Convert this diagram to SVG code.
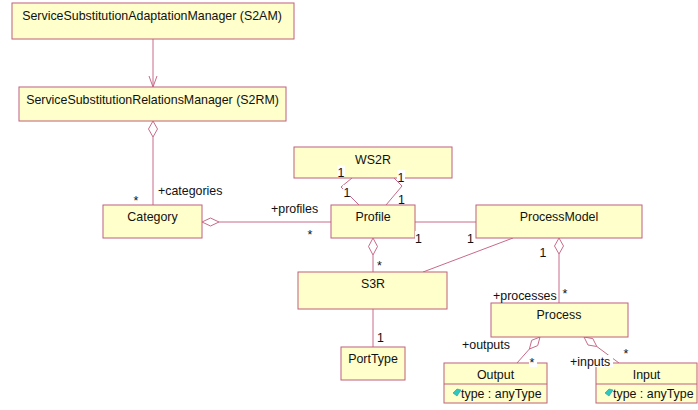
<svg xmlns="http://www.w3.org/2000/svg" width="698" height="410" viewBox="0 0 698 410">
<defs>
<style>
.box{fill:#FFFFCC;stroke:#BF5F7D;stroke-width:1}
.ln{fill:none;stroke:#C86A88;stroke-width:1}
.dia{fill:#FFFFFF;stroke:#C86A88;stroke-width:1}
.t{font-family:"Liberation Sans",Arial,sans-serif;font-size:12.4px;fill:#111}
.c{text-anchor:middle}
.bg{fill:#FFFFFF}
</style>
</defs>
<rect width="698" height="410" fill="#FFFFFF"/>
<g id="connectors">
<line class="ln" x1="153" y1="39" x2="153" y2="87"/>
<polyline class="ln" points="149,76 153,87 157,76"/>
<line class="ln" x1="153" y1="137" x2="153" y2="205"/>
<polygon class="dia" points="153,121 157.5,129 153,137 148.5,129"/>
<line class="ln" x1="219" y1="222" x2="331" y2="222"/>
<polygon class="dia" points="202,222 210.5,218 219,222 210.5,226"/>
<line class="ln" x1="415" y1="222" x2="476" y2="222"/>
<polyline class="ln" points="352,178 341,187 359,205"/>
<polyline class="ln" points="394,178 402,186 386,205"/>
<line class="ln" x1="373" y1="255" x2="373" y2="272"/>
<polygon class="dia" points="373,238 377.5,246.5 373,255 368.5,246.5"/>
<line class="ln" x1="513" y1="238" x2="423" y2="272"/>
<line class="ln" x1="373" y1="309" x2="373" y2="347"/>
<line class="ln" x1="559" y1="254" x2="559" y2="303"/>
<polygon class="dia" points="559,238 563.5,246 559,254 554.5,246"/>
<line class="ln" x1="529.4" y1="349" x2="517" y2="363"/>
<polygon class="dia" points="540,337 537.7,345.6 529.4,349 531.7,340.3"/>
<line class="ln" x1="596.8" y1="346.5" x2="619" y2="363"/>
<polygon class="dia" points="584,337 592.8,338.6 596.8,346.5 588,345"/>
</g>
<g id="S2AM">
<rect class="box" x="12" y="3" width="282" height="36"/>
<text class="t c" x="152" y="19.5">ServiceSubstitutionAdaptationManager (S2AM)</text>
</g>
<g id="S2RM">
<rect class="box" x="19" y="87" width="267" height="34"/>
<text class="t c" x="152.5" y="104">ServiceSubstitutionRelationsManager (S2RM)</text>
</g>
<g id="Category">
<rect class="box" x="103" y="205" width="99" height="33"/>
<text class="t c" x="152.5" y="221">Category</text>
</g>
<g id="WS2R">
<rect class="box" x="294" y="147" width="158" height="31"/>
<text class="t c" x="373" y="163.5">WS2R</text>
</g>
<g id="Profile">
<rect class="box" x="331" y="205" width="84" height="33"/>
<text class="t c" x="373" y="220.5">Profile</text>
</g>
<g id="ProcessModel">
<rect class="box" x="476" y="205" width="166" height="33"/>
<text class="t c" x="559" y="221">ProcessModel</text>
</g>
<g id="S3R">
<rect class="box" x="298" y="272" width="149" height="37"/>
<text class="t c" x="373" y="287.5">S3R</text>
</g>
<g id="PortType">
<rect class="box" x="341" y="347" width="64" height="33"/>
<text class="t c" x="373" y="362.5">PortType</text>
</g>
<g id="Process">
<rect class="box" x="491" y="303" width="137" height="34"/>
<text class="t c" x="559" y="318.5">Process</text>
</g>
<g id="Output">
<rect class="box" x="444" y="363" width="103" height="40"/>
<line x1="444" y1="384" x2="547" y2="384" stroke="#BF5F7D" stroke-width="1"/>
<text class="t c" x="495.5" y="379">Output</text>
<polygon points="453,393 457,389 461,390 457,396" fill="#2EC8C0" stroke="#1A9A98" stroke-width="0.6"/>
<text class="t" x="461" y="397.5">type : anyType</text>
</g>
<g id="Input">
<rect class="box" x="596" y="363" width="101" height="40"/>
<line x1="596" y1="384" x2="697" y2="384" stroke="#BF5F7D" stroke-width="1"/>
<text class="t c" x="646.5" y="379">Input</text>
<polygon points="605,393 609,389 613,390 609,396" fill="#2EC8C0" stroke="#1A9A98" stroke-width="0.6"/>
<text class="t" x="613" y="397.5">type : anyType</text>
</g>
<g id="labels">
<text class="t" x="133.5" y="205">*</text>
<text class="t" x="158" y="195">+categories</text>
<text class="t" x="271" y="213">+profiles</text>
<text class="t" x="307.5" y="239">*</text>
<rect class="bg" x="337" y="165" width="8" height="11"/>
<text class="t" x="337.5" y="177">1</text>
<rect class="bg" x="343" y="185" width="8" height="11"/>
<text class="t" x="343.5" y="197">1</text>
<rect class="bg" x="397" y="170" width="8" height="11"/>
<text class="t" x="397.5" y="181.5">1</text>
<rect class="bg" x="398" y="192" width="8" height="11"/>
<text class="t" x="398" y="204">1</text>
<rect class="bg" x="415" y="231" width="8" height="11"/>
<text class="t" x="415" y="242.5">1</text>
<rect class="bg" x="467" y="231" width="8" height="11"/>
<text class="t" x="467" y="242.5">1</text>
<text class="t" x="539.5" y="256.5">1</text>
<text class="t" x="377" y="270">*</text>
<text class="t" x="377" y="341.5">1</text>
<text class="t" x="493" y="300">+processes</text>
<text class="t" x="562.5" y="298">*</text>
<text class="t" x="462" y="349">+outputs</text>
<rect class="bg" x="529" y="356" width="8" height="11"/>
<text class="t" x="529.5" y="367">*</text>
<rect class="bg" x="569" y="355" width="44" height="12"/>
<text class="t" x="570" y="366">+inputs</text>
<text class="t" x="623.5" y="358">*</text>
</g>
</svg>
